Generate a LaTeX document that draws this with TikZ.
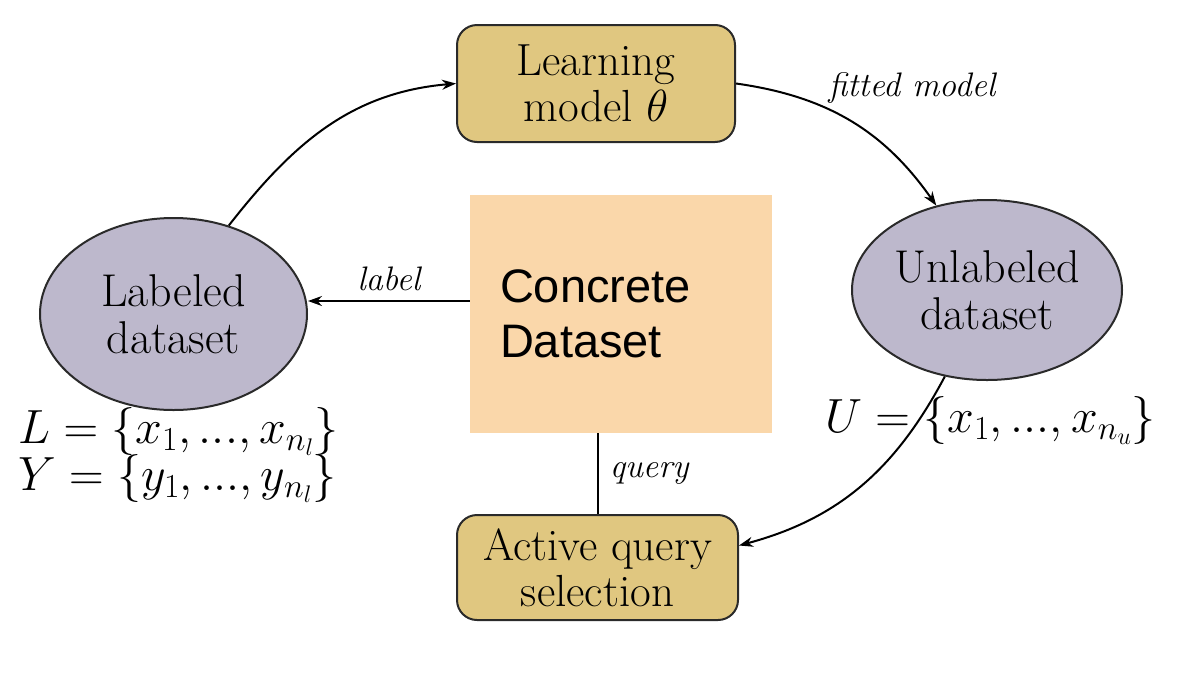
\RequirePackage{fix-cm}
\documentclass[tikz,border=0pt]{standalone}
\usepackage{fontspec}
\newfontfamily\arialfont{Liberation Sans}
\usetikzlibrary{shapes.geometric,arrows.meta}
\definecolor{tanfill}{HTML}{E0C780}
\definecolor{lavfill}{HTML}{BDB8CC}
\definecolor{peachfill}{HTML}{FAD7AA}
\definecolor{edge}{HTML}{2A2A2A}
\tikzset{
  rbox/.style={draw=edge, line width=2pt, fill=tanfill, rounded corners=20pt, minimum width=278pt, inner sep=0pt, align=center, font=\fontsize{45}{46}\selectfont},
  dset/.style={ellipse, draw=edge, line width=2pt, fill=lavfill, inner sep=0pt, align=center, font=\fontsize{46}{47}\selectfont},
  cdbox/.style={rectangle, fill=peachfill, minimum height=238pt, text width=242pt, inner xsep=30pt, inner ysep=0pt, align=left, font=\arialfont\fontsize{47}{55}\selectfont},
  arr/.style={draw=black, line width=2pt, -{Stealth[length=14pt,width=10pt]}},
  lbl/.style={font=\itshape\fontsize{34}{38}\selectfont},
  mathlbl/.style={font=\fontsize{48}{52}\selectfont, inner sep=0pt}
}
\begin{document}
\begin{tikzpicture}[x=1pt,y=-1pt]
\useasboundingbox (0,0) rectangle (1180,686);
\node[rbox, minimum height=117pt] (learn) at (596,83.5) {Learning\\model $\theta$};
\node[rbox, minimum height=105pt, minimum width=281pt] (act) at (597.5,567.5) {Active query\\selection};
\node[dset, minimum width=267pt, minimum height=192pt] (lab) at (173.5,314) {Labeled\\dataset};
\node[dset, minimum width=270pt, minimum height=180pt] (unl) at (987,290) {Unlabeled\\dataset};
\node[cdbox] (cd) at (621,314) {Concrete\\Dataset};
\node[mathlbl, anchor=base west] (Lset) at (18,443) {$L=\{x_1,...,x_{n_l}\}$};
\node[mathlbl, anchor=base west] (Yset) at (18,490) {$Y=\{y_1,...,y_{n_l}\}$};
\node[mathlbl, anchor=base west] (Uset) at (825,432) {$U=\{x_1,...,x_{n_u}\}$};
\draw[arr] (lab.58) to[out=52,in=185] (learn.west);
\draw[arr] (learn.east) to[out=-8,in=125] (unl.121);
\draw[arr] (unl.244) to[out=-118,in=15] ([yshift=22pt]act.east);
\draw[arr] ([yshift=13pt]cd.west) -- ([yshift=13pt]cd.west -| lab.east) node[lbl, midway, above=6pt] (labeltxt) {label};
\draw[line width=2pt, draw=black] (act.north |- cd.south) -- (act.north) node[lbl, midway, right=8pt] (querytxt) {query};
\node[lbl] (fitted) at (912,88) {fitted model};
\end{tikzpicture}
\end{document}
